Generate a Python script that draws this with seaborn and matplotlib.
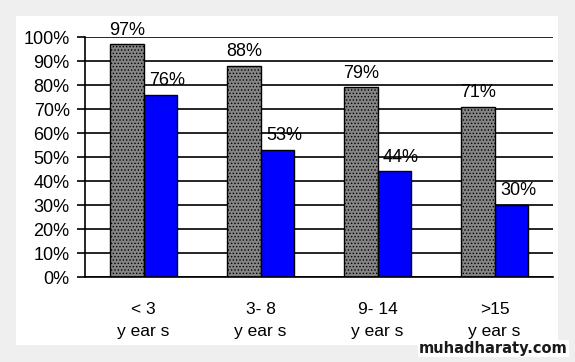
import pandas as pd
import matplotlib.pyplot as plt
import seaborn as sns
from matplotlib.patches import Rectangle

# Data
groups = ['< 3\ny ear s', '3- 8\ny ear s', '9- 14\ny ear s', '>15\ny ear s']
series_a = [97, 88, 79, 71]
series_b = [76, 53, 44, 30]
series_names = ['A', 'B']
colors = ['#858585', '#0000ff']

df = pd.DataFrame({
    'group': groups * 2,
    'value': series_a + series_b,
    'series': [series_names[0]] * 4 + [series_names[1]] * 4,
})

sns.set_style('white')
plt.rcParams['font.family'] = ['Liberation Sans', 'DejaVu Sans']
plt.rcParams['text.color'] = 'black'
plt.rcParams['xtick.color'] = 'black'
plt.rcParams['ytick.color'] = 'black'
plt.rcParams['hatch.linewidth'] = 0.6
plt.rcParams['hatch.color'] = '#4a4a4a'

fig = plt.figure(figsize=(5.75, 3.62), dpi=100, facecolor='#efefef')
# white panel behind the chart
bg = fig.add_axes([0, 0, 1, 1], zorder=-1)
bg.axis('off')
bg.add_patch(Rectangle((16 / 575, 17 / 362), 542 / 575, 329 / 362,
                       transform=fig.transFigure, facecolor='white', edgecolor='none'))
ax = fig.add_axes([85 / 575, 85 / 362, 468 / 575, 240 / 362], zorder=1)
ax.set_facecolor('none')

sns.barplot(data=df, x='group', y='value', hue='series', palette=colors,
            saturation=1, width=0.57, edgecolor='black', linewidth=1,
            legend=False, ax=ax)

for bar in ax.containers[0]:
    bar.set_hatch('.....')
    bar.set_edgecolor('black')

# value labels, blue ones sit a little right of their bars
for container, dx in zip(ax.containers, [0, 5]):
    for bar, v in zip(container, container.datavalues):
        ax.annotate(f'{int(v)}%', (bar.get_x() + bar.get_width() / 2, v),
                    xytext=(dx, 4), textcoords='offset points',
                    ha='center', va='bottom', fontsize=13)

ax.set_ylim(0, 100)
ax.set_xlim(-0.5, 3.5)
ax.set_yticks(range(0, 101, 10))
ax.set_yticklabels([f'{v}%' for v in range(0, 101, 10)], fontsize=13)
ax.yaxis.grid(True, color='black', linewidth=1.2)
ax.set_axisbelow(True)
ax.set_xticks(range(4))
ax.set_xticklabels(groups, fontsize=12.5, linespacing=1.6)
ax.set_xticks([-0.5, 0.5, 1.5, 2.5, 3.5], minor=True)
ax.tick_params(axis='x', which='major', length=0, pad=18)
ax.tick_params(axis='x', which='minor', length=6, width=1.2, direction='out')
ax.tick_params(axis='y', length=6, width=1.2, direction='out', left=True, pad=5)
ax.set_xlabel('')
ax.set_ylabel('')
for side in ['top', 'right']:
    ax.spines[side].set_visible(False)
for side in ['left', 'bottom']:
    ax.spines[side].set_color('black')
    ax.spines[side].set_linewidth(1.2)

fig.text(568 / 575, 6 / 362, 'muhadharaty.com', ha='right', va='bottom', fontsize=10.5,
         fontweight='bold', color='#1a1a1a', family=['DejaVu Sans'], zorder=0,
         bbox=dict(facecolor='white', edgecolor='none', pad=1))

fig.savefig('out.png', dpi=100, facecolor=fig.get_facecolor())
